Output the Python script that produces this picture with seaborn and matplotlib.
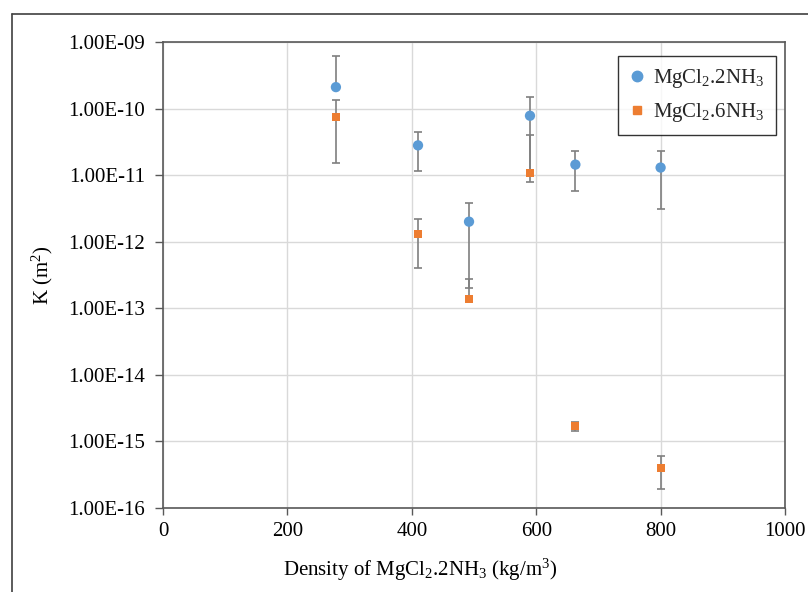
import numpy as np
import pandas as pd
import matplotlib
matplotlib.use("Agg")
import matplotlib.pyplot as plt
import seaborn as sns
from matplotlib.ticker import FuncFormatter, FixedLocator
from matplotlib.lines import Line2D

# ---- data ----
density = [278, 410, 492, 590, 663, 800]
k_2nh3 = [2.1e-10, 2.8e-11, 2.0e-12, 7.8e-11, 1.44e-11, 1.3e-11]
err_2nh3 = [4.0e-10, 1.65e-11, 1.8e-12, 7.0e-11, 8.6e-12, 9.9e-12]
k_6nh3 = [7.5e-11, 1.3e-12, 1.38e-13, 1.08e-11, 1.7e-15, 4.0e-16]
err_6nh3 = [6.0e-11, 9.0e-13, 1.4e-13, 2.97e-11, 2.8e-16, 2.05e-16]
label_2 = "MgCl$_2$.2NH$_3$"
label_6 = "MgCl$_2$.6NH$_3$"
x_ticks = [0, 200, 400, 600, 800, 1000]
y_ticks = [1e-16, 1e-15, 1e-14, 1e-13, 1e-12, 1e-11, 1e-10, 1e-9]

sns.set_theme(style="white")
plt.rcParams['font.family'] = ['Liberation Serif', 'DejaVu Serif']
plt.rcParams['mathtext.fontset'] = 'custom'
plt.rcParams['mathtext.rm'] = 'Liberation Serif'
plt.rcParams['mathtext.it'] = 'Liberation Serif:italic'

fig = plt.figure(figsize=(8.08, 5.92), dpi=100)
ax = fig.add_axes([163/808, 1-508/592, (785-163)/808, (508-42)/592])

blue = "#5B9BD5"
orange = "#ED7D31"
ecol = "#7F7F7F"

def errs(vals, e):
    lo = [ee if v - ee > 0 else 0 for v, ee in zip(vals, e)]
    return [lo, e]

ax.set_yscale('log')
ax.errorbar(density, k_2nh3, yerr=errs(k_2nh3, err_2nh3), fmt='none',
            ecolor=ecol, elinewidth=1.2, capsize=3, capthick=1.2, zorder=2)
ax.errorbar(density, k_6nh3, yerr=errs(k_6nh3, err_6nh3), fmt='none',
            ecolor=ecol, elinewidth=1.2, capsize=3, capthick=1.2, zorder=2)

df = pd.DataFrame({
    "density": density * 2,
    "K": k_2nh3 + k_6nh3,
    "series": [label_2] * len(density) + [label_6] * len(density),
})
sns.scatterplot(data=df, x="density", y="K", hue="series", style="series",
                markers={label_2: 'o', label_6: 's'},
                palette={label_2: blue, label_6: orange},
                size="series", sizes={label_2: 55, label_6: 34},
                linewidth=0, ax=ax, zorder=3, legend=False)

ax.set_xlim(0, 1000)
ax.set_ylim(1e-16, 1e-9)
ax.xaxis.set_major_locator(FixedLocator(x_ticks))
ax.yaxis.set_major_locator(FixedLocator(y_ticks))
ax.yaxis.set_minor_locator(FixedLocator([]))
ax.yaxis.set_major_formatter(FuncFormatter(lambda v, p: f"{v:.2E}"))
ax.xaxis.set_major_formatter(FuncFormatter(lambda v, p: f"{int(v)}"))

ax.grid(True, color="#D9D9D9", linewidth=1)
ax.set_axisbelow(True)
for s in ax.spines.values():
    s.set_color("#595959")
    s.set_linewidth(1.2)
    s.set_visible(True)

ax.tick_params(axis='y', which='major', length=6, width=1, color="#595959",
               direction='out', left=True, labelsize=15, pad=7, labelcolor='black')
ax.tick_params(axis='x', which='major', length=5, width=1, color="#595959",
               direction='out', bottom=True, labelsize=15, pad=5, labelcolor='black')

ax.set_xlabel("Density of MgCl$_2$.2NH$_3$ (kg/m$^3$)", fontsize=15, labelpad=10, color='black')
ax.xaxis.set_label_coords((420-163)/622, -0.105)
ax.set_ylabel("K (m$^2$)", fontsize=15, color='black')
ax.yaxis.set_label_coords((55-163)/622, 0.5)

handles = [
    Line2D([], [], marker='o', linestyle='none', color=blue, markersize=7.5, label=label_2),
    Line2D([], [], marker='s', linestyle='none', color=orange, markersize=6, label=label_6),
]
leg = fig.legend(handles=handles, loc='upper right', bbox_to_anchor=(776/808, 1-56/592),
                 borderaxespad=0, fontsize=15, frameon=True, fancybox=False, edgecolor='black',
                 handlelength=0.8, handletextpad=0.35, borderpad=0.55, labelspacing=0.5)
leg.get_frame().set_linewidth(1.0)

# outer chart-area frame (cropped at right and bottom)
fig.add_artist(Line2D([12/808, 1.0], [1-14/592, 1-14/592], color="#404040", lw=1.2,
                      transform=fig.transFigure))
fig.add_artist(Line2D([12/808, 12/808], [0.0, 1-14/592], color="#404040", lw=1.2,
                      transform=fig.transFigure))

fig.savefig("out.png", dpi=100)
